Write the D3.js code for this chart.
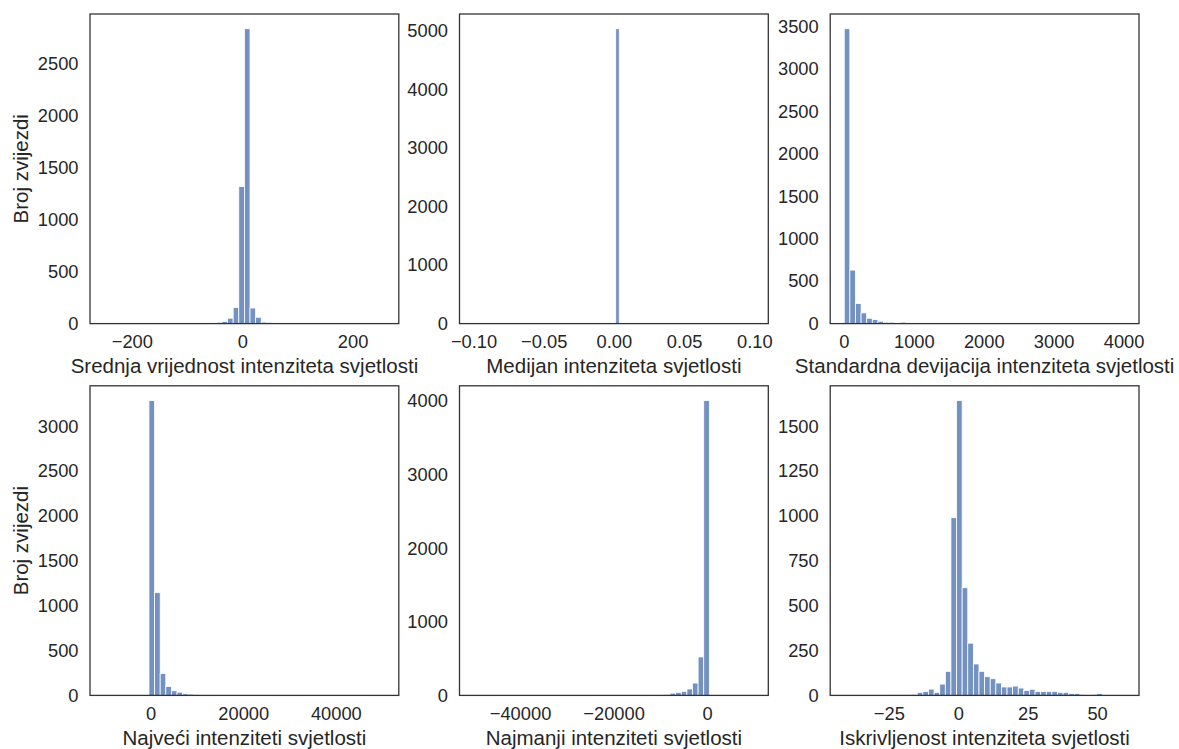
<!DOCTYPE html>
<html><head><meta charset="utf-8">
<script src="https://cdn.jsdelivr.net/npm/d3@7"></script>
<style>
body{margin:0;background:#fff}
svg{display:block}
text{font-family:"Liberation Sans",Arial,sans-serif;fill:#262626}
</style>
</head><body>
<svg id="chart" width="1179" height="749"></svg>
<script>
// ---------------- DATA ----------------
const yLabel = "Broj zvijezdi";
const xLabels = [
  "Srednja vrijednost intenziteta svjetlosti",
  "Medijan intenziteta svjetlosti",
  "Standardna devijacija intenziteta svjetlosti",
  "Najveći intenziteti svjetlosti",
  "Najmanji intenziteti svjetlosti",
  "Iskrivljenost intenziteta svjetlosti"
];

// 1) mean
const meanRange = [-250.4, 258.3];
const meanXlim = [-275.8, 283.7];
const meanCounts = [1,0,0,0,0,0,0,0,0,0, 1,0,0,0,1, 1,2,3,4,6, 13,21,52,155,1320, 2840,150,61,14,12, 6,4,3,2,2, 1,1,0,1,0, 1,0,0,0,0, 0,0,0,0,1];
const meanXTicks = [-200, 0, 200];
const meanYTicks = [0, 500, 1000, 1500, 2000, 2500];

// 2) median
const medianRange = [0.0013, 0.0038];
const medianXlim = [-0.11, 0.11];
const medianCounts = [5040];
const medianXTicks = [-0.10, -0.05, 0.00, 0.05, 0.10];
const medianYTicks = [0, 1000, 2000, 3000, 4000, 5000];

// 3) standard deviation
const stdRange = [4.7, 4019];
const stdXlim = [-196, 4220];
const stdCounts = [3471,630,236,126,63, 47,28,16,16,4, 16,3,3,2,2, 2,1,1,1,1, 1,0,1,0,0, 1,0,0,0,0, 0,0,0,0,0, 0,0,0,0,0, 0,0,0,0,0, 0,0,0,0,1];
const stdXTicks = [0, 1000, 2000, 3000, 4000];
const stdYTicks = [0, 500, 1000, 1500, 2000, 2500, 3000, 3500];

// 4) maximum
const maxRange = [-10068, 50565];
const maxXlim = [-13100, 53597];
const maxCounts = [1,0,0,0,0,0,0,0,3286,1145, 243,100,52,36,18, 14,6,4,3,2, 2,1,1,1,0, 1,0,0,1,0, 0,0,0,0,0, 0,0,0,0,0, 0,0,0,0,0, 0,0,0,0,1];
const maxXTicks = [0, 20000, 40000];
const maxYTicks = [0, 500, 1000, 1500, 2000, 2500, 3000];

// 5) minimum
const minRange = [-49938, 10066];
const minXlim = [-52938, 13066];
const minCounts = [1,0,0,0,0,0,0,0,0,0, 0,0,0,0,0, 0,0,0,0,0, 0,0,0,0,1, 0,0,1,0,1, 1,2,3,5,9, 31,41,55,87,168, 523,4008,2,1,0, 0,0,0,0,1];
const minXTicks = [-40000, -20000, 0];
const minYTicks = [0, 1000, 2000, 3000, 4000];

// 6) skewness
const skewRange = [-41.0, 60.0];
const skewXlim = [-46.1, 65.1];
const skewCounts = [1,0,0,1,1, 2,2,2,3,3, 3,5,6,17,22, 35,17,63,134,990, 1643,600,291,175,134, 104,93,69,47,47, 52,41,28,34,22, 22,22,22,17,17, 11,11,6,2,6, 11,2,1,1,1];
const skewXTicks = [-25, 0, 25, 50];
const skewYTicks = [0, 250, 500, 750, 1000, 1250, 1500];

// ---------------- LAYOUT ----------------
const colLeft = [90, 459.5, 830.2];
const rowTop = [14, 385.8];
const pw = 308.8, ph = 309.6;

const panels = [
  {range: meanRange, xlim: meanXlim, counts: meanCounts, xt: meanXTicks, yt: meanYTicks, fmt: d3.format("d")},
  {range: medianRange, xlim: medianXlim, counts: medianCounts, xt: medianXTicks, yt: medianYTicks, fmt: d3.format(".2f")},
  {range: stdRange, xlim: stdXlim, counts: stdCounts, xt: stdXTicks, yt: stdYTicks, fmt: d3.format("d")},
  {range: maxRange, xlim: maxXlim, counts: maxCounts, xt: maxXTicks, yt: maxYTicks, fmt: d3.format("d")},
  {range: minRange, xlim: minXlim, counts: minCounts, xt: minXTicks, yt: minYTicks, fmt: d3.format("d")},
  {range: skewRange, xlim: skewXlim, counts: skewCounts, xt: skewXTicks, yt: skewYTicks, fmt: d3.format("d")}
];

const svg = d3.select("#chart");
const tickFont = 18.3, labelFont = 20.5;

panels.forEach((p, i) => {
  const left = colLeft[i % 3], top = rowTop[Math.floor(i / 3)];
  const g = svg.append("g").attr("transform", `translate(${left},${top})`);
  const x = d3.scaleLinear().domain(p.xlim).range([0, pw]);
  const ymax = d3.max(p.counts) * 1.05;
  const y = d3.scaleLinear().domain([0, ymax]).range([ph, 0]);

  const n = p.counts.length;
  const bw = (p.range[1] - p.range[0]) / n;
  const bins = p.counts.map((c, k) => ({x0: p.range[0] + k * bw, x1: p.range[0] + (k + 1) * bw, c}));

  const clipId = "clip" + i;
  g.append("clipPath").attr("id", clipId).append("rect").attr("width", pw).attr("height", ph);

  g.append("g").attr("clip-path", `url(#${clipId})`)
    .selectAll("rect").data(bins.filter(b => b.c > 0)).join("rect")
    .attr("x", b => x(b.x0))
    .attr("width", b => Math.max(0, x(b.x1) - x(b.x0)))
    .attr("y", b => y(b.c))
    .attr("height", b => ph - y(b.c))
    .attr("fill", "#4c72b0").attr("fill-opacity", 0.78)
    .attr("stroke", "#fff").attr("stroke-width", 0.8);

  // axes
  const ax = g.append("g").attr("transform", `translate(0,${ph})`)
    .call(d3.axisBottom(x).tickValues(p.xt).tickSize(0).tickPadding(11.7).tickFormat(p.fmt));
  const ay = g.append("g")
    .call(d3.axisLeft(y).tickValues(p.yt).tickSize(0).tickPadding(11.5).tickFormat(d3.format("d")));
  [ax, ay].forEach(a => {
    a.select(".domain").remove();
    a.selectAll("text").attr("font-size", tickFont).attr("font-family", '"Liberation Sans",Arial,sans-serif').attr("fill", "#262626");
  });

  // frame
  g.append("rect").attr("width", pw).attr("height", ph)
    .attr("fill", "none").attr("stroke", "#333").attr("stroke-width", 1.3);

  // x label
  g.append("text").attr("x", pw / 2).attr("y", ph + 49.5)
    .attr("text-anchor", "middle").attr("font-size", labelFont)
    .text(xLabels[i]);

  if (i % 3 === 0) {
    g.append("text")
      .attr("transform", `translate(${28 - left},${ph / 2}) rotate(-90)`)
      .attr("text-anchor", "middle").attr("font-size", labelFont)
      .text(yLabel);
  }
});
</script>
</body></html>
